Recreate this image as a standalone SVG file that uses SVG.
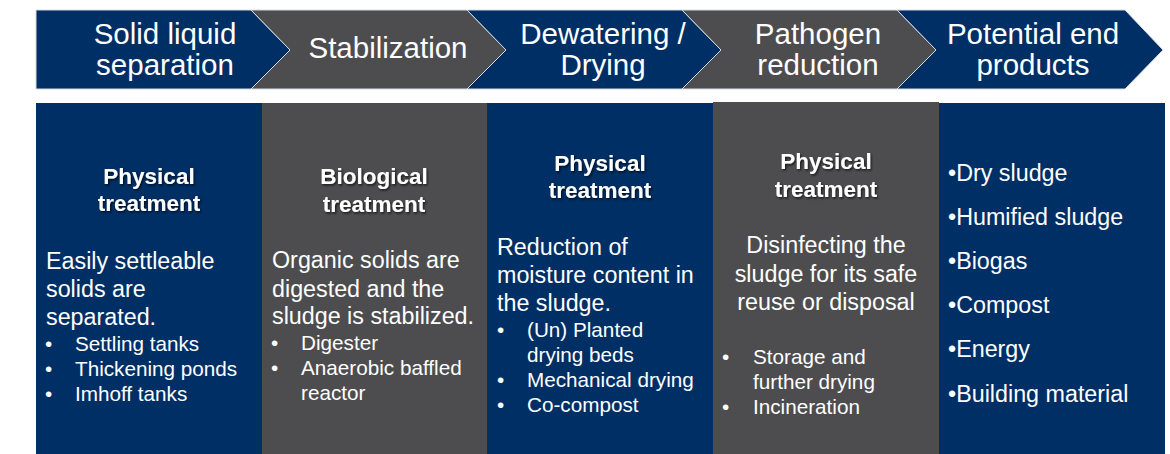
<svg xmlns="http://www.w3.org/2000/svg" width="1170" height="454" viewBox="0 0 1170 454">
<style>
.navy{fill:#002f65}
.gray{fill:#4d4d4f}
.chev{stroke:#d5dae3;stroke-width:1}
text{font-family:"Liberation Sans",Arial,sans-serif;fill:#ffffff}
.h{font-size:29.5px;text-anchor:middle}
.b{font-size:22.5px;font-weight:bold;text-anchor:middle}
.t{font-size:23.3px}
.c{font-size:23.3px;text-anchor:middle}
.l{font-size:20.7px}
</style>
<defs>
<filter id="sh" x="-20%" y="-30%" width="140%" height="160%">
<feDropShadow dx="1.2" dy="1.5" stdDeviation="1.2" flood-color="#000000" flood-opacity="0.7"/>
</filter>
</defs>
<rect width="1170" height="454" fill="#ffffff"/>
<g id="chevron-1">
<polygon class="navy chev" points="36,10 251,10 290,50 251,89 36,89"/>
<text class="h" x="165" y="44">Solid liquid</text>
<text class="h" x="165" y="75">separation</text>
</g>
<g id="chevron-2">
<polygon class="gray chev" points="251,10 467,10 506,50 467,89 251,89 290,50"/>
<text class="h" x="388" y="58">Stabilization</text>
</g>
<g id="chevron-3">
<polygon class="navy chev" points="467,10 682,10 721,50 682,89 467,89 506,50"/>
<text class="h" x="603" y="44">Dewatering /</text>
<text class="h" x="603" y="75">Drying</text>
</g>
<g id="chevron-4">
<polygon class="gray chev" points="682,10 897,10 936,50 897,89 682,89 721,50"/>
<text class="h" x="818" y="44">Pathogen</text>
<text class="h" x="818" y="75">reduction</text>
</g>
<g id="chevron-5">
<polygon class="navy chev" points="897,10 1125,10 1163,50 1125,89 897,89 936,50"/>
<text class="h" x="1033" y="44">Potential end</text>
<text class="h" x="1033" y="75">products</text>
</g>
<g id="column-1">
<rect class="navy" x="36" y="103" width="226" height="351"/>
<text class="b" x="149" y="184" filter="url(#sh)">Physical</text>
<text class="b" x="149" y="211" filter="url(#sh)">treatment</text>
<text class="t" x="46" y="269">Easily settleable</text>
<text class="t" x="46" y="297">solids are</text>
<text class="t" x="46" y="325">separated.</text>
<text class="l" x="45" y="351">•</text><text class="l" x="75" y="351">Settling tanks</text>
<text class="l" x="45" y="376">•</text><text class="l" x="75" y="376">Thickening ponds</text>
<text class="l" x="45" y="401">•</text><text class="l" x="75" y="401">Imhoff tanks</text>
</g>
<g id="column-2">
<rect class="gray" x="262" y="103" width="225" height="351"/>
<text class="b" x="374" y="184" filter="url(#sh)">Biological</text>
<text class="b" x="374" y="212" filter="url(#sh)">treatment</text>
<text class="t" x="272" y="268">Organic solids are</text>
<text class="t" x="272" y="297">digested and the</text>
<text class="t" x="272" y="324">sludge is stabilized.</text>
<text class="l" x="271" y="350">•</text><text class="l" x="301" y="350">Digester</text>
<text class="l" x="271" y="375">•</text><text class="l" x="301" y="375">Anaerobic baffled</text>
<text class="l" x="301" y="400">reactor</text>
</g>
<g id="column-3">
<rect class="navy" x="487" y="103" width="226" height="351"/>
<text class="b" x="600" y="171" filter="url(#sh)">Physical</text>
<text class="b" x="600" y="198" filter="url(#sh)">treatment</text>
<text class="t" x="497" y="255">Reduction of</text>
<text class="t" x="497" y="283">moisture content in</text>
<text class="t" x="497" y="311">the sludge.</text>
<text class="l" x="497" y="337">•</text><text class="l" x="527" y="337">(Un) Planted</text>
<text class="l" x="527" y="362">drying beds</text>
<text class="l" x="497" y="387">•</text><text class="l" x="527" y="387">Mechanical drying</text>
<text class="l" x="497" y="412">•</text><text class="l" x="527" y="412">Co-compost</text>
</g>
<g id="column-4">
<rect class="gray" x="713" y="102" width="226" height="352"/>
<text class="b" x="826" y="169" filter="url(#sh)">Physical</text>
<text class="b" x="826" y="197" filter="url(#sh)">treatment</text>
<text class="c" x="826" y="253">Disinfecting the</text>
<text class="c" x="826" y="282">sludge for its safe</text>
<text class="c" x="826" y="310">reuse or disposal</text>
<text class="l" x="722" y="364">•</text><text class="l" x="753" y="364">Storage and</text>
<text class="l" x="753" y="389">further drying</text>
<text class="l" x="722" y="414">•</text><text class="l" x="753" y="414">Incineration</text>
</g>
<g id="column-5">
<rect class="navy" x="939" y="103" width="226" height="351"/>
<text class="t" x="948" y="181">•Dry sludge</text>
<text class="t" x="948" y="225">•Humified sludge</text>
<text class="t" x="948" y="269">•Biogas</text>
<text class="t" x="948" y="313">•Compost</text>
<text class="t" x="948" y="357">•Energy</text>
<text class="t" x="948" y="402">•Building material</text>
</g>
<g id="connectors"></g>
</svg>
